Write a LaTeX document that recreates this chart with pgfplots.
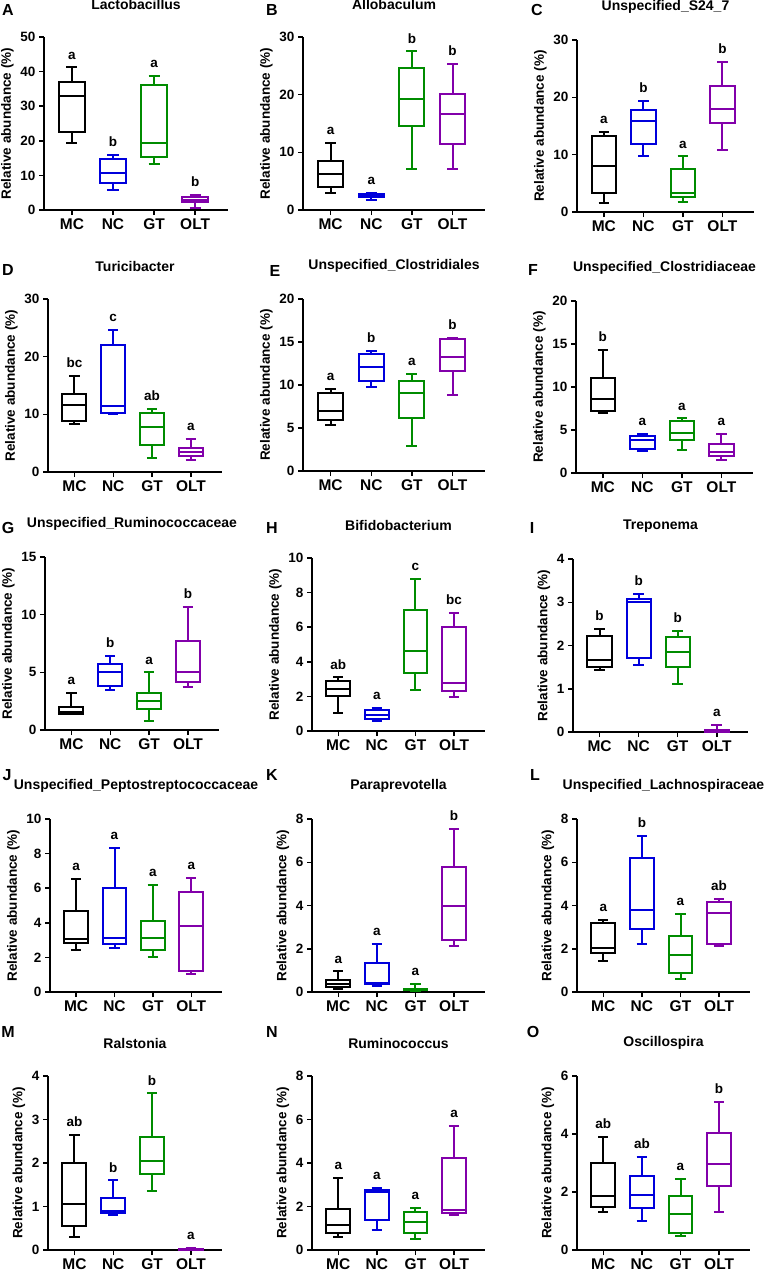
\documentclass[border=0pt]{standalone}
\usepackage{pgfplots}
\pgfplotsset{compat=1.18}
\usepgfplotslibrary{statistics}
\usepackage{fontspec}
\setmainfont{Liberation Sans}

\definecolor{cMC}{RGB}{0,0,0}
\definecolor{cNC}{RGB}{0,0,220}
\definecolor{cGT}{RGB}{0,140,0}
\definecolor{cOLT}{RGB}{130,0,170}

\newcommand{\fs}[1]{\bfseries\fontsize{#1}{#1}\selectfont}

\pgfplotsset{
  panel/.style={
    scale only axis,
    axis lines=left,
    axis line style={-, line width=1.5pt},
    xmin=0.32, xmax=4.8, ymin=0,
    xtick={1,2,3,4}, xticklabels={MC,NC,GT,OLT},
    tick align=outside, major tick length=5pt,
    tick style={line width=1.5pt, black},
    xticklabel style={font=\fs{15.5}},
    yticklabel style={font=\fs{13.5}},
    /pgf/number format/assume math mode=true,
    ylabel={Relative abundance (\%)},
    ylabel style={font=\fs{13.5}},
    title style={font=\fs{14}, at={(axis description cs:0.5,1)}, anchor=center, yshift=27pt},
    clip=false,
    boxplot/draw direction=y,
    boxplot/box extend=0.62,
    boxplot/whisker extend=0.27,
  },
  lbl/.style={only marks, mark=none, nodes near coords, point meta=explicit symbolic,
    every node near coord/.style={anchor=south, inner sep=0pt, yshift=8pt, font=\fs{13.5}, text=black}},
}

% color, position, lower whisker, lower quartile, median, upper quartile, upper whisker
\newcommand{\bx}[7]{\addplot[#1, line width=2pt, boxplot prepared={draw position=#2,
  lower whisker=#3, lower quartile=#4, median=#5, upper quartile=#6, upper whisker=#7}] coordinates {};}

\begin{document}
\begin{tikzpicture}
\useasboundingbox (0,0) rectangle (766pt,-1275pt);

% ---- row 1
\begin{axis}[panel, at={(44pt,-210pt)}, anchor=south west, width=184pt, height=173pt,
  ymax=50, ytick distance=10, title={Lactobacillus}]
\bx{cMC}{1}{19.5}{22.5}{33}{37}{41.2}
\bx{cNC}{2}{5.8}{7.8}{10.8}{14.7}{15.9}
\bx{cGT}{3}{13.3}{15.2}{19.4}{36}{38.8}
\bx{cOLT}{4}{0.6}{2.2}{3.0}{3.8}{4.3}
\addplot[lbl] coordinates {(1,41.2)[a] (2,15.9)[b] (3,38.8)[a] (4,4.3)[b]};
\end{axis}

\begin{axis}[panel, at={(303pt,-210pt)}, anchor=south west, width=182pt, height=173pt,
  ymax=30, ytick distance=10, title={Allobaculum}]
\bx{cMC}{1}{2.9}{4.05}{6.2}{8.5}{11.6}
\bx{cNC}{2}{1.7}{2.2}{2.5}{2.8}{3.0}
\bx{cGT}{3}{7.05}{14.6}{19.2}{24.7}{27.5}
\bx{cOLT}{4}{7.05}{11.5}{16.7}{20.1}{25.4}
\addplot[lbl] coordinates {(1,11.6)[a] (2,3.0)[a] (3,27.5)[b] (4,25.4)[b]};
\end{axis}

\begin{axis}[panel, at={(577pt,-212pt)}, anchor=south west, width=177pt, height=172pt,
  ymax=30, ytick distance=10, title={Unspecified\_S24\_7}]
\bx{cMC}{1}{1.6}{3.3}{8.1}{13.2}{13.9}
\bx{cNC}{2}{9.8}{11.8}{15.8}{17.8}{19.4}
\bx{cGT}{3}{1.7}{2.7}{3.4}{7.5}{9.7}
\bx{cOLT}{4}{10.9}{15.6}{18.0}{22.0}{26.2}
\addplot[lbl] coordinates {(1,13.9)[a] (2,19.4)[b] (3,9.7)[a] (4,26.2)[b]};
\end{axis}

% ---- row 2
\begin{axis}[panel, at={(48pt,-472pt)}, anchor=south west, width=174pt, height=173pt,
  ymax=30, ytick distance=10, title={Turicibacter}]
\bx{cMC}{1}{8.4}{8.9}{11.6}{13.6}{16.7}
\bx{cNC}{2}{10.0}{10.3}{11.5}{22.1}{24.7}
\bx{cGT}{3}{2.5}{4.6}{7.8}{10.3}{10.9}
\bx{cOLT}{4}{2.0}{2.8}{3.5}{4.2}{5.7}
\addplot[lbl] coordinates {(1,16.7)[bc] (2,24.7)[c] (3,10.9)[ab] (4,5.7)[a]};
\end{axis}

\begin{axis}[panel, at={(303pt,-471pt)}, anchor=south west, width=182pt, height=172pt,
  ymax=20, ytick distance=5, title={Unspecified\_Clostridiales}]
\bx{cMC}{1}{5.35}{5.95}{7.0}{9.05}{9.5}
\bx{cNC}{2}{9.8}{10.5}{12.15}{13.6}{14.0}
\bx{cGT}{3}{2.9}{6.2}{9.05}{10.5}{11.3}
\bx{cOLT}{4}{8.8}{11.65}{13.25}{15.35}{15.45}
\addplot[lbl] coordinates {(1,9.5)[a] (2,14.0)[b] (3,11.3)[a] (4,15.45)[b]};
\end{axis}

\begin{axis}[panel, at={(576pt,-473pt)}, anchor=south west, width=177pt, height=172pt,
  ymax=20, ytick distance=5, title={Unspecified\_Clostridiaceae}]
\bx{cMC}{1}{7.0}{7.2}{8.6}{11.1}{14.35}
\bx{cNC}{2}{2.6}{2.8}{3.8}{4.25}{4.55}
\bx{cGT}{3}{2.7}{3.8}{4.65}{6.05}{6.35}
\bx{cOLT}{4}{1.55}{1.95}{2.45}{3.35}{4.55}
\addplot[lbl] coordinates {(1,14.35)[b] (2,4.55)[a] (3,6.35)[a] (4,4.55)[a]};
\end{axis}

% ---- row 3
\begin{axis}[panel, at={(45pt,-730pt)}, anchor=south west, width=174pt, height=173pt,
  ymax=15, ytick distance=5, title={Unspecified\_Ruminococcaceae}]
\bx{cMC}{1}{1.4}{1.4}{1.6}{2.0}{3.2}
\bx{cNC}{2}{3.5}{3.8}{5.0}{5.7}{6.45}
\bx{cGT}{3}{0.8}{1.8}{2.5}{3.2}{5.0}
\bx{cOLT}{4}{3.75}{4.2}{5.0}{7.7}{10.65}
\addplot[lbl] coordinates {(1,3.2)[a] (2,6.45)[b] (3,5.0)[a] (4,10.65)[b]};
\end{axis}

\begin{axis}[panel, at={(312pt,-731pt)}, anchor=south west, width=173pt, height=173pt,
  ymax=10, ytick distance=2, title={Bifidobacterium}]
\bx{cMC}{1}{1.05}{2.05}{2.45}{2.9}{3.1}
\bx{cNC}{2}{0.6}{0.7}{0.95}{1.2}{1.35}
\bx{cGT}{3}{2.35}{3.35}{4.6}{7.0}{8.8}
\bx{cOLT}{4}{1.95}{2.3}{2.8}{6.0}{6.85}
\addplot[lbl] coordinates {(1,3.1)[ab] (2,1.35)[a] (3,8.8)[c] (4,6.85)[bc]};
\end{axis}

\begin{axis}[panel, at={(573pt,-732pt)}, anchor=south west, width=175pt, height=173pt,
  ymax=4, ytick distance=1, title={Treponema}]
\bx{cMC}{1}{1.43}{1.51}{1.66}{2.22}{2.38}
\bx{cNC}{2}{1.55}{1.7}{3.0}{3.08}{3.2}
\bx{cGT}{3}{1.12}{1.51}{1.84}{2.2}{2.34}
\bx{cOLT}{4}{0}{0.01}{0.02}{0.04}{0.17}
\addplot[lbl] coordinates {(1,2.38)[b] (2,3.2)[b] (3,2.34)[b] (4,0.17)[a]};
\end{axis}

% ---- row 4
\begin{axis}[panel, at={(50pt,-992pt)}, anchor=south west, width=172pt, height=173pt,
  ymax=10, ytick distance=2, title={Unspecified\_Peptostreptococcaceae}]
\bx{cMC}{1}{2.45}{2.85}{3.05}{4.7}{6.55}
\bx{cNC}{2}{2.55}{2.75}{3.15}{6.0}{8.35}
\bx{cGT}{3}{2.05}{2.45}{3.1}{4.1}{6.2}
\bx{cOLT}{4}{1.05}{1.2}{3.8}{5.8}{6.6}
\addplot[lbl] coordinates {(1,6.55)[a] (2,8.35)[a] (3,6.2)[a] (4,6.6)[a]};
\end{axis}

\begin{axis}[panel, at={(312pt,-992pt)}, anchor=south west, width=173pt, height=173pt,
  ymax=8, ytick distance=2, title={Paraprevotella}]
\bx{cMC}{1}{0.13}{0.23}{0.37}{0.55}{0.95}
\bx{cNC}{2}{0.26}{0.38}{0.42}{1.35}{2.22}
\bx{cGT}{3}{0.04}{0.07}{0.1}{0.15}{0.38}
\bx{cOLT}{4}{2.15}{2.42}{4.0}{5.8}{7.55}
\addplot[lbl] coordinates {(1,0.95)[a] (2,2.22)[a] (3,0.38)[a] (4,7.55)[b]};
\end{axis}

\begin{axis}[panel, at={(577pt,-992pt)}, anchor=south west, width=173pt, height=173pt,
  ymax=8, ytick distance=2, title={Unspecified\_Lachnospiraceae}]
\bx{cMC}{1}{1.43}{1.82}{2.05}{3.2}{3.35}
\bx{cNC}{2}{2.2}{2.93}{3.78}{6.2}{7.23}
\bx{cGT}{3}{0.59}{0.9}{1.73}{2.6}{3.63}
\bx{cOLT}{4}{2.13}{2.24}{3.66}{4.15}{4.3}
\addplot[lbl] coordinates {(1,3.35)[a] (2,7.23)[b] (3,3.63)[a] (4,4.3)[ab]};
\end{axis}

% ---- row 5
\begin{axis}[panel, at={(48pt,-1250pt)}, anchor=south west, width=174pt, height=174pt,
  ymax=4, ytick distance=1, title={Ralstonia}]
\bx{cMC}{1}{0.3}{0.55}{1.05}{2.0}{2.65}
\bx{cNC}{2}{0.8}{0.85}{0.9}{1.2}{1.6}
\bx{cGT}{3}{1.35}{1.75}{2.05}{2.6}{3.6}
\bx{cOLT}{4}{0}{0.01}{0.02}{0.03}{0.04}
\addplot[lbl] coordinates {(1,2.65)[ab] (2,1.6)[b] (3,3.6)[b] (4,0.04)[a]};
\end{axis}

\begin{axis}[panel, at={(312pt,-1250pt)}, anchor=south west, width=173pt, height=174pt,
  ymax=8, ytick distance=2, title={Ruminococcus}]
\bx{cMC}{1}{0.6}{0.8}{1.15}{1.9}{3.3}
\bx{cNC}{2}{0.9}{1.4}{2.65}{2.75}{2.85}
\bx{cGT}{3}{0.5}{0.8}{1.3}{1.75}{1.95}
\bx{cOLT}{4}{1.6}{1.7}{1.85}{4.25}{5.7}
\addplot[lbl] coordinates {(1,3.3)[a] (2,2.85)[a] (3,1.95)[a] (4,5.7)[a]};
\end{axis}

\begin{axis}[panel, at={(577pt,-1250pt)}, anchor=south west, width=173pt, height=174pt,
  ymax=6, ytick distance=2, title={Oscillospira}]
\bx{cMC}{1}{1.3}{1.5}{1.85}{3.0}{3.9}
\bx{cNC}{2}{1.0}{1.45}{1.9}{2.55}{3.2}
\bx{cGT}{3}{0.5}{0.6}{1.25}{1.85}{2.45}
\bx{cOLT}{4}{1.3}{2.2}{2.95}{4.05}{5.1}
\addplot[lbl] coordinates {(1,3.9)[ab] (2,3.2)[ab] (3,2.45)[a] (4,5.1)[b]};
\end{axis}

% panel letters
\begin{scope}[every node/.style={font=\fs{16}}]
\node at (8pt,-10pt) {A};   \node at (272pt,-10pt) {B};   \node at (537pt,-10pt) {C};
\node at (8pt,-270pt) {D}; \node at (275pt,-271pt) {E}; \node at (533pt,-270pt) {F};
\node at (8pt,-528pt) {G}; \node at (272pt,-528pt) {H}; \node at (532pt,-528pt) {I};
\node at (7pt,-775pt) {J}; \node at (272pt,-775pt) {K}; \node at (535pt,-775pt) {L};
\node at (8pt,-1032pt) {M}; \node at (272pt,-1032pt) {N}; \node at (533pt,-1032pt) {O};
\end{scope}
\end{tikzpicture}
\end{document}
